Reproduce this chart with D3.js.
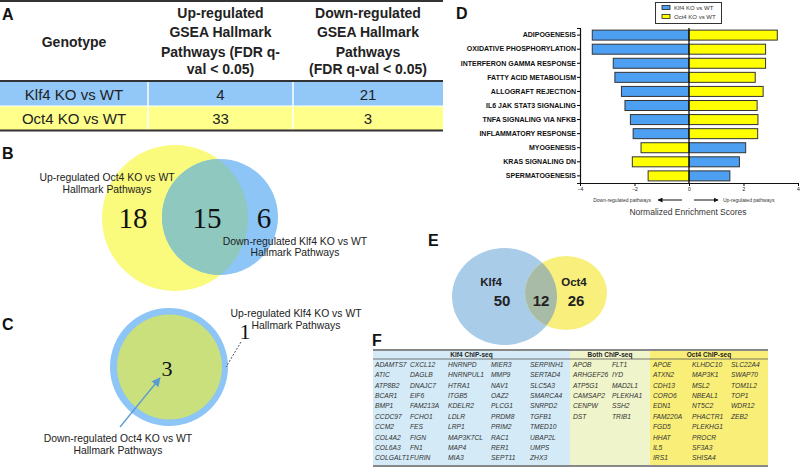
<!DOCTYPE html>
<html>
<head>
<meta charset="UTF-8">
<title>GSEA hallmark figure</title>
<script src="https://cdn.jsdelivr.net/npm/d3@7"></script>
<style>
body { margin: 0; background: #fff; }
svg { display: block; font-family: "Liberation Sans", Arial, sans-serif; }
</style>
</head>
<body>
<div id="fig"></div>
<script>
// ---- panel A: table
var genotypes = ["Klf4 KO vs WT", "Oct4 KO vs WT"];
var upCounts = [4, 33];
var downCounts = [21, 3];
var headerLines = [
    ["Genotype"],
    ["Up-regulated", "GSEA Hallmark", "Pathways (FDR q-", "val < 0.05)"],
    ["Down-regulated", "GSEA Hallmark", "Pathways", "(FDR q-val < 0.05)"]
];

// ---- panel D: NES bars
var pathways = ["ADIPOGENESIS", "OXIDATIVE PHOSPHORYLATION", "INTERFERON GAMMA RESPONSE",
    "FATTY ACID METABOLISM", "ALLOGRAFT REJECTION", "IL6 JAK STAT3 SIGNALING",
    "TNFA SIGNALING VIA NFKB", "INFLAMMATORY RESPONSE", "MYOGENESIS",
    "KRAS SIGNALING DN", "SPERMATOGENESIS"];
var klf4NES = [-3.55, -3.55, -2.78, -2.72, -2.48, -2.35, -2.15, -2.05, 2.08, 1.85, 1.50];
var oct4NES = [3.24, 2.81, 2.81, 2.43, 2.72, 2.50, 2.53, 2.52, -1.76, -2.08, -1.50];
var nesTicks = [-4, -2, 0, 2, 4];
var seriesNames = ["Klf4 KO vs WT", "Oct4 KO vs WT"];

// ---- venn counts
var vennBCounts = [18, 15, 6];   // Oct4 up only, both, Klf4 down only
var vennCCounts = [3, 1];        // Oct4 down (inside), Klf4 up only
var vennECounts = [50, 12, 26];  // Klf4 only, both, Oct4 only
var vennESets = ["Klf4", "Oct4"];

// ---- panel F: gene lists
var klf4Genes = ["ADAMTS7","ATIC","ATP8B2","BCAR1","BMP1","CCDC97","CCM2","COL4A2","COL6A3","COLGALT1",
    "CXCL12","DAGLB","DNAJC7","EIF6","FAM213A","FCHO1","FES","FIGN","FN1","FURIN",
    "HNRNPD","HNRNPUL1","HTRA1","ITGB5","KDELR2","LDLR","LRP1","MAP3K7CL","MAP4","MIA3",
    "MIER3","MMP9","NAV1","OAZ2","PLCG1","PRDM8","PRIM2","RAC1","RER1","SEPT11",
    "SERPINH1","SERTAD4","SLC5A3","SMARCA4","SNRPD2","TGFB1","TMED10","UBAP2L","UMPS","ZHX3"];
var bothGenes = ["APOB","ARHGEF26","ATP5G1","CAMSAP2","CENPW","DST",
    "FLT1","IYD","MAD2L1","PLEKHA1","SSH2","TRIB1"];
var oct4Genes = ["APOE","ATXN2","CDH13","CORO6","EDN1","FAM220A","FGD5","HHAT","IL5","IRS1",
    "KLHDC10","MAP3K1","MSL2","NBEAL1","NT5C2","PHACTR1","PLEKHG1","PROCR","SF3A3","SHISA4",
    "SLC22A4","SWAP70","TOM1L2","TOP1","WDR12","ZEB2"];

var W = 800, H = 469;
var svg = d3.select("#fig").append("svg").attr("width", W).attr("height", H);

function panelLabel(t, x, y) {
    svg.append("text").attr("x", x).attr("y", y).text(t)
        .attr("font-size", 16).attr("font-weight", "bold").attr("fill", "#111");
}

///////////////////////////////////////////////////////////////
// A - table
///////////////////////////////////////////////////////////////
var colEdges = [0, 148, 293, 443];
var rowY = d3.scaleBand().domain(genotypes).range([82, 130]);
var rowFill = ["#92c8f8", "#ffff8c"];
var gA = svg.append("g");
gA.selectAll("rect.row").data(genotypes).enter().append("rect")
    .attr("x", 0).attr("y", function (d) { return rowY(d); })
    .attr("width", colEdges[3]).attr("height", rowY.bandwidth())
    .attr("fill", function (d, i) { return rowFill[i]; });
[148, 293].forEach(function (x) {
    gA.append("line").attr("x1", x).attr("x2", x).attr("y1", 82).attr("y2", 130)
        .attr("stroke", "#fff").attr("stroke-width", 1.5);
});
gA.append("line").attr("x1", 0).attr("x2", 443).attr("y1", 106).attr("y2", 106)
    .attr("stroke", "#fff").attr("stroke-width", 1);
[1, 81, 130.5].forEach(function (y) {
    gA.append("line").attr("x1", 0).attr("x2", 443).attr("y1", y).attr("y2", y)
        .attr("stroke", "#333").attr("stroke-width", 2);
});
var headerY = [18, 37, 56.5, 73.5];
headerLines.forEach(function (lines, c) {
    var cx = (colEdges[c] + colEdges[c + 1]) / 2;
    lines.forEach(function (t, k) {
        gA.append("text").attr("x", cx)
            .attr("y", lines.length === 1 ? 47 : headerY[k])
            .attr("text-anchor", "middle").attr("font-size", 14).attr("font-weight", "bold")
            .attr("fill", "#222").text(t);
    });
});
genotypes.forEach(function (g, i) {
    var y = rowY(g) + rowY.bandwidth() / 2 + 5.5;
    [g, upCounts[i], downCounts[i]].forEach(function (v, c) {
        gA.append("text").attr("x", (colEdges[c] + colEdges[c + 1]) / 2).attr("y", y)
            .attr("text-anchor", "middle").attr("font-size", 15).attr("fill", "#222").text(v);
    });
});
panelLabel("A", 2, 20);

///////////////////////////////////////////////////////////////
// B - venn
///////////////////////////////////////////////////////////////
var defs = svg.append("defs");
defs.append("clipPath").attr("id", "clipB").append("circle")
    .attr("cx", 220).attr("cy", 217).attr("r", 58);
svg.append("circle").attr("cx", 175).attr("cy", 218).attr("r", 73).attr("fill", "#fafa7c");
svg.append("circle").attr("cx", 220).attr("cy", 217).attr("r", 58).attr("fill", "#8cc5f6");
svg.append("circle").attr("cx", 175).attr("cy", 218).attr("r", 73).attr("fill", "#8ec8bf")
    .attr("clip-path", "url(#clipB)");
var bNumX = [133, 207, 264];
vennBCounts.forEach(function (v, i) {
    svg.append("text").attr("x", bNumX[i]).attr("y", 228).attr("text-anchor", "middle")
        .attr("font-family", "'Liberation Serif', 'Times New Roman', serif")
        .attr("font-size", 29).attr("fill", "#111").text(v);
});
function twoLines(l1, l2, x, y1, y2, anchor) {
    [[l1, y1], [l2, y2]].forEach(function (p) {
        svg.append("text").attr("x", x).attr("y", p[1]).attr("text-anchor", anchor || "middle")
            .attr("font-size", 10.4).attr("fill", "#222").text(p[0]);
    });
}
twoLines("Up-regulated Oct4 KO vs WT", "Hallmark Pathways", 107, 180.5, 193);
twoLines("Down-regulated Klf4 KO vs WT", "Hallmark Pathways", 295, 244.5, 256);
panelLabel("B", 2, 159);

///////////////////////////////////////////////////////////////
// C - nested venn
///////////////////////////////////////////////////////////////
svg.append("circle").attr("cx", 169).attr("cy", 367).attr("r", 59).attr("fill", "#8cc5f6");
svg.append("circle").attr("cx", 169.5).attr("cy", 367).attr("r", 52.5).attr("fill", "#c9e07c");
svg.append("text").attr("x", 167).attr("y", 376).attr("text-anchor", "middle")
    .attr("font-family", "'Liberation Serif', 'Times New Roman', serif")
    .attr("font-size", 22).attr("fill", "#111").text(vennCCounts[0]);
svg.append("text").attr("x", 245).attr("y", 339).attr("text-anchor", "middle")
    .attr("font-family", "'Liberation Serif', 'Times New Roman', serif")
    .attr("font-size", 22).attr("fill", "#111").text(vennCCounts[1]);
svg.append("line").attr("x1", 241).attr("y1", 342).attr("x2", 226).attr("y2", 367)
    .attr("stroke", "#555").attr("stroke-width", 1).attr("stroke-dasharray", "2,1.5");
defs.append("marker").attr("id", "arrBlue").attr("viewBox", "0 0 10 10")
    .attr("refX", 9).attr("refY", 5).attr("markerWidth", 7).attr("markerHeight", 7)
    .attr("orient", "auto").append("path").attr("d", "M0,0L10,5L0,10z").attr("fill", "#5b9bd5");
svg.append("line").attr("x1", 120).attr("y1", 427).attr("x2", 160).attr("y2", 378)
    .attr("stroke", "#5b9bd5").attr("stroke-width", 1.3).attr("marker-end", "url(#arrBlue)");
twoLines("Up-regulated Klf4 KO vs WT", "Hallmark Pathways", 296, 316.5, 329);
twoLines("Down-regulated Oct4 KO vs WT", "Hallmark Pathways", 118, 442, 453.5);
panelLabel("C", 2, 330);

///////////////////////////////////////////////////////////////
// D - diverging bar chart
///////////////////////////////////////////////////////////////
var xD = d3.scaleLinear().domain([-4, 4]).range([580, 798]);
var yD = d3.scaleBand().domain(pathways).range([28, 183]).paddingInner(0.29).paddingOuter(0.15);
var blueD = "#4d9ff2", yellowD = "#ffff00";
var gD = svg.append("g");
function bars(vals, col) {
    gD.selectAll(null).data(pathways).enter().append("rect")
        .attr("x", function (d, i) { return xD(Math.min(0, vals[i])); })
        .attr("y", function (d) { return yD(d); })
        .attr("width", function (d, i) { return Math.abs(xD(vals[i]) - xD(0)); })
        .attr("height", yD.bandwidth())
        .attr("fill", col).attr("stroke", "#333").attr("stroke-width", 1);
}
bars(klf4NES, blueD);
bars(oct4NES, yellowD);
gD.append("line").attr("x1", xD(0)).attr("x2", xD(0)).attr("y1", 28).attr("y2", 183)
    .attr("stroke", "#111").attr("stroke-width", 1.3);
var yAx = gD.append("g").attr("transform", "translate(580,0)")
    .call(d3.axisLeft(yD).tickSize(3).tickPadding(1));
yAx.select(".domain").attr("stroke", "#111").attr("stroke-width", 1.2);
yAx.selectAll("text").attr("font-size", 7).attr("font-weight", "bold")
    .attr("font-family", "'Liberation Sans', Arial, sans-serif").attr("fill", "#111");
var xAx = gD.append("g").attr("transform", "translate(0,183)")
    .call(d3.axisBottom(xD).tickValues(nesTicks).tickSize(3).tickSizeOuter(0).tickPadding(1));
xAx.select(".domain").attr("stroke", "#111").attr("stroke-width", 1.2);
xAx.selectAll("text").attr("font-size", 5).attr("fill", "#111")
    .attr("font-family", "'Liberation Sans', Arial, sans-serif");
defs.append("marker").attr("id", "arrBlk").attr("viewBox", "0 0 10 10")
    .attr("refX", 9).attr("refY", 5).attr("markerWidth", 5).attr("markerHeight", 5)
    .attr("orient", "auto").append("path").attr("d", "M0,0L10,5L0,10z").attr("fill", "#111");
gD.append("line").attr("x1", 682).attr("x2", 658).attr("y1", 200).attr("y2", 200)
    .attr("stroke", "#111").attr("stroke-width", 1).attr("marker-end", "url(#arrBlk)");
gD.append("line").attr("x1", 694).attr("x2", 718).attr("y1", 200).attr("y2", 200)
    .attr("stroke", "#111").attr("stroke-width", 1).attr("marker-end", "url(#arrBlk)");
gD.append("text").attr("x", 651).attr("y", 202).attr("text-anchor", "end")
    .attr("font-size", 5).attr("fill", "#333").text("Down-regulated pathways");
gD.append("text").attr("x", 723).attr("y", 202)
    .attr("font-size", 5).attr("fill", "#333").text("Up-regulated pathways");
gD.append("text").attr("x", 688).attr("y", 214.5).attr("text-anchor", "middle")
    .attr("font-size", 8.5).attr("fill", "#333").text("Normalized Enrichment Scores");
// legend
gD.append("rect").attr("x", 655.5).attr("y", 2.5).attr("width", 66).attr("height", 21)
    .attr("fill", "#fff").attr("stroke", "#333").attr("stroke-width", 1);
seriesNames.forEach(function (s, i) {
    gD.append("rect").attr("x", 662).attr("y", 5.5 + i * 9).attr("width", 8).attr("height", 4)
        .attr("fill", [blueD, yellowD][i]).attr("stroke", "#222").attr("stroke-width", 0.8);
    gD.append("text").attr("x", 674).attr("y", 10 + i * 9)
        .attr("font-size", 6).attr("fill", "#333").text(s);
});
panelLabel("D", 456, 19);

///////////////////////////////////////////////////////////////
// E - venn
///////////////////////////////////////////////////////////////
defs.append("clipPath").attr("id", "clipE").append("ellipse")
    .attr("cx", 504.5).attr("cy", 296.5).attr("rx", 52.5).attr("ry", 48.5);
svg.append("ellipse").attr("cx", 504.5).attr("cy", 296.5).attr("rx", 52.5).attr("ry", 48.5)
    .attr("fill", "#a9cce9");
svg.append("ellipse").attr("cx", 566).attr("cy", 293).attr("rx", 41).attr("ry", 37)
    .attr("fill", "#f8ef7c");
svg.append("ellipse").attr("cx", 566).attr("cy", 293).attr("rx", 41).attr("ry", 37)
    .attr("fill", "#a8bba6").attr("clip-path", "url(#clipE)");
var eNameX = [491, 574], eNumX = [502, 541, 576];
vennESets.forEach(function (s, i) {
    svg.append("text").attr("x", eNameX[i]).attr("y", 286).attr("text-anchor", "middle")
        .attr("font-size", 11.5).attr("font-weight", "bold").attr("fill", "#222").text(s);
});
vennECounts.forEach(function (v, i) {
    svg.append("text").attr("x", eNumX[i]).attr("y", 306).attr("text-anchor", "middle")
        .attr("font-size", 15).attr("font-weight", "bold").attr("fill", "#222").text(v);
});
panelLabel("E", 428, 246);

///////////////////////////////////////////////////////////////
// F - gene table
///////////////////////////////////////////////////////////////
var sections = [
    {name: "Klf4 ChIP-seq", genes: klf4Genes, perCol: 10, x0: 373, x1: 570, fill: "#d4eaf6", cols: [375, 410, 448, 491, 530]},
    {name: "Both ChIP-seq", genes: bothGenes, perCol: 6, x0: 570, x1: 650, fill: "#eff4ca", cols: [573, 612]},
    {name: "Oct4 ChIP-seq", genes: oct4Genes, perCol: 10, x0: 650, x1: 768, fill: "#f9ef78", cols: [653, 692, 731]}
];
var rowsF = d3.range(10);
var yF = d3.scaleBand().domain(rowsF).range([359, 463]);
var gF = svg.append("g");
sections.forEach(function (s) {
    gF.append("rect").attr("x", s.x0).attr("y", 350).attr("width", s.x1 - s.x0).attr("height", 115)
        .attr("fill", s.fill);
    gF.append("text").attr("x", (s.x0 + s.x1) / 2).attr("y", 357).attr("text-anchor", "middle")
        .attr("font-size", 6.5).attr("font-weight", "bold").attr("fill", "#222").text(s.name);
    gF.selectAll(null).data(s.genes).enter().append("text")
        .attr("x", function (d, i) { return s.cols[Math.floor(i / s.perCol)]; })
        .attr("y", function (d, i) { return yF(i % s.perCol) + yF.bandwidth() / 2 + 2.5; })
        .attr("font-size", 6.7).attr("font-style", "italic").attr("fill", "#333")
        .text(function (d) { return d; });
});
gF.append("line").attr("x1", 373).attr("x2", 768).attr("y1", 350).attr("y2", 350)
    .attr("stroke", "#888").attr("stroke-width", 2);
gF.append("line").attr("x1", 373).attr("x2", 768).attr("y1", 359).attr("y2", 359)
    .attr("stroke", "#555").attr("stroke-width", 0.8);
gF.append("line").attr("x1", 373).attr("x2", 768).attr("y1", 466).attr("y2", 466)
    .attr("stroke", "#888").attr("stroke-width", 2);
panelLabel("F", 372, 346);
</script>
</body>
</html>
